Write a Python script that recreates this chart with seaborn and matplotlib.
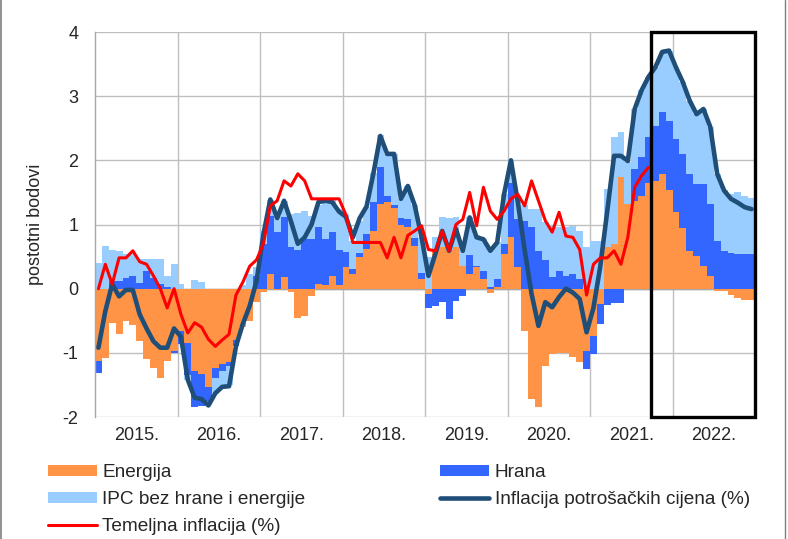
import numpy as np
import pandas as pd
import matplotlib
matplotlib.use("Agg")
import matplotlib.pyplot as plt
from matplotlib.patches import Rectangle, Patch
from matplotlib.lines import Line2D
import seaborn as sns

# ---------------- data (monthly, Jan 2015 - Dec 2022) ----------------
years = ["2015.", "2016.", "2017.", "2018.", "2019.", "2020.", "2021.", "2022."]

energija = [
    -1.13, -1.08, -0.53, -0.71, -0.50, -0.56, -0.82, -1.10, -1.23, -1.39, -1.13, -0.97,
    -0.66, -0.85, -1.28, -1.33, -1.54, -1.23, -1.18, -1.15, -0.80, -0.60, -0.50, -0.21,
    -0.05, 0.23, -0.02, 0.18, -0.05, -0.45, -0.42, -0.11, 0.07, 0.05, 0.20, 0.06,
    0.33, 0.23, 0.50, 0.62, 0.90, 1.32, 1.35, 1.25, 1.00, 0.96, 0.67, 0.15,
    -0.08, 0.60, 0.65, 0.60, 0.65, 0.35, 0.23, 0.33, 0.15, -0.06, 0.02, 0.54,
    0.80, 0.33, -0.66, -1.72, -1.85, -1.20, -1.02, -1.00, -1.00, -1.07, -1.15, -0.97,
    -0.73, -0.24, 0.65, 0.70, 1.74, 1.32, 1.36, 1.45, 1.65, 1.68, 1.79, 1.53,
    1.19, 0.95, 0.59, 0.51, 0.35, 0.20, -0.03, -0.03, -0.10, -0.15, -0.18, -0.18,
]

hrana = [
    -0.19, 0.00, 0.12, 0.12, 0.17, 0.19, 0.09, 0.27, 0.17, 0.07, 0.02, -0.04,
    -0.20, -0.50, -0.57, -0.50, -0.21, -0.16, -0.10, -0.05, -0.10, 0.00, 0.00, 0.20,
    0.70, 0.90, 0.88, 0.93, 0.65, 0.60, 0.78, 0.78, 0.89, 0.73, 0.68, 0.54,
    0.24, 0.07, 0.05, 0.23, 0.45, 0.58, 0.10, 0.05, 0.10, 0.12, 0.12, 0.10,
    -0.22, -0.27, -0.21, -0.47, -0.19, -0.11, 0.30, 0.03, 0.13, 0.02, 0.13, 0.15,
    0.84, 0.76, 1.05, 0.96, 0.59, 0.44, 0.18, 0.28, 0.20, 0.23, 0.15, -0.28,
    -0.29, -0.31, -0.25, -0.22, -0.22, 0.00, 0.50, 0.60, 0.72, 0.86, 0.96, 1.09,
    1.14, 1.15, 1.20, 1.12, 1.28, 1.12, 0.74, 0.59, 0.56, 0.54, 0.54, 0.54,
]

ipc_bez = [
    0.40, 0.67, 0.49, 0.47, 0.37, 0.35, 0.38, 0.19, 0.29, 0.39, 0.18, 0.39,
    0.07, -0.07, 0.14, 0.10, -0.07, -0.24, -0.26, -0.30, 0.00, 0.05, 0.23, 0.13,
    0.20, 0.25, 0.26, 0.26, 0.52, 0.58, 0.43, 0.35, 0.34, 0.62, 0.52, 0.64,
    0.60, 0.45, 0.50, 0.43, 0.45, 0.49, 0.65, 0.80, 0.30, 0.52, 0.51, 0.55,
    0.50, 0.20, 0.46, 0.50, 0.47, 0.35, 0.58, 0.47, 0.49, 0.63, 0.57, 0.78,
    0.36, 0.35, 0.25, 0.28, 0.65, 0.60, 0.80, 0.68, 0.76, 0.75, 0.75, 0.65,
    0.75, 0.75, 0.91, 1.67, 0.70, 0.65, 0.94, 1.04, 0.93, 0.91, 0.94, 1.09,
    1.12, 1.12, 1.14, 1.09, 1.17, 1.20, 1.05, 0.94, 0.91, 0.96, 0.91, 0.88,
]

inflacija = [
    -0.92, -0.35, 0.07, -0.12, -0.02, -0.02, -0.40, -0.62, -0.82, -0.92, -0.92, -0.62,
    -0.75, -1.42, -1.70, -1.72, -1.82, -1.63, -1.53, -1.52, -0.90, -0.55, -0.27, 0.12,
    0.85, 1.39, 1.10, 1.37, 1.05, 0.70, 0.80, 1.00, 1.35, 1.37, 1.35, 1.20,
    1.12, 0.80, 1.10, 1.28, 1.80, 2.38, 2.10, 2.10, 1.40, 1.60, 1.30, 0.80,
    0.20, 0.54, 0.90, 0.59, 0.93, 0.59, 1.11, 0.80, 0.77, 0.59, 0.72, 1.47,
    2.00, 1.35, 0.60, -0.08, -0.58, -0.21, -0.29, -0.13, 0.00, -0.06, -0.16, -0.68,
    -0.30, 0.35, 1.20, 2.07, 2.07, 1.99, 2.80, 3.09, 3.30, 3.45, 3.69, 3.71,
    3.45, 3.22, 2.93, 2.72, 2.80, 2.52, 1.79, 1.53, 1.40, 1.34, 1.27, 1.24,
]

temeljna = [
    0.00, 0.38, 0.07, 0.48, 0.48, 0.59, 0.42, 0.38, 0.20, 0.00, -0.30, 0.00,
    -0.40, -0.69, -0.53, -0.60, -0.79, -0.90, -0.80, -0.71, -0.10, 0.10, 0.35, 0.45,
    0.70, 1.29, 1.37, 1.68, 1.60, 1.79, 1.68, 1.40, 1.40, 1.40, 1.40, 1.40,
    1.15, 0.72, 0.72, 0.72, 0.72, 0.72, 0.48, 0.80, 0.48, 0.83, 0.90, 0.98,
    0.61, 0.59, 0.90, 0.59, 1.00, 1.08, 1.50, 0.98, 1.58, 1.21, 1.08, 1.21,
    1.40, 1.47, 1.29, 1.68, 1.37, 1.06, 0.88, 1.19, 0.82, 0.80, 0.61, -0.10,
    0.38, 0.48, 0.48, 0.59, 0.38, 0.80, 1.58, 1.76, 1.89,
]

# highlighted period (projection box) starts at this month position
box_start = 80.9

# ---------------- styling ----------------
C_ENERGY = "#FF9447"
C_FOOD = "#3366FF"
C_CORE = "#99CCFF"
C_CPI = "#1F4E79"
C_TEM = "#FF0000"
GRID = "#BFBFBF"

sns.set_theme(style="white")
plt.rcParams["font.family"] = ["Liberation Sans", "DejaVu Sans"]

n = len(energija)
x = np.arange(n) + 0.5
df = pd.DataFrame({"x": x, "Energija": energija, "Hrana": hrana,
                   "IPC": ipc_bez, "Inflacija": inflacija})
df_tem = pd.DataFrame({"x": x[:len(temeljna)], "Temeljna": temeljna})

fig = plt.figure(figsize=(7.88, 5.39), dpi=100)
ax = fig.add_axes([95 / 788, 1 - 417 / 539, 660 / 788, 385 / 539])

# stacked bars (positive stack up, negative stack down)
pos_b = np.zeros(n)
neg_b = np.zeros(n)
for col, colr in [("Energija", C_ENERGY), ("Hrana", C_FOOD), ("IPC", C_CORE)]:
    v = df[col].to_numpy()
    bottom = np.where(v >= 0, pos_b, neg_b)
    ax.bar(df["x"], v, bottom=bottom, width=1.0, color=colr,
           linewidth=0, edgecolor="none", zorder=2, antialiased=False)
    pos_b = pos_b + np.where(v >= 0, v, 0)
    neg_b = neg_b + np.where(v < 0, v, 0)

sns.lineplot(data=df, x="x", y="Inflacija", ax=ax, color=C_CPI, lw=3.3,
             zorder=4, legend=False)
sns.lineplot(data=df_tem, x="x", y="Temeljna", ax=ax, color=C_TEM, lw=2.2,
             zorder=5, legend=False)

ax.set_xlim(0, n)
ax.set_ylim(-2, 4)
ax.set_yticks(range(-2, 5))
ax.set_yticklabels([str(v) for v in range(-2, 5)])
ax.set_xticks(np.arange(len(years)) * 12 + 6)
ax.set_xticklabels(years)
ax.grid(False)
ax.set_axisbelow(True)
for yv in range(-2, 5):
    ax.axhline(yv, color=GRID, lw=1.0, zorder=0.5)
for xv in np.arange(12, n, 12):
    ax.axvline(xv, color=GRID, lw=1.0, zorder=0.5)
ax.axhline(0, color="#A6A6A6", lw=1.0, zorder=1.5)

for s in ["top", "right", "bottom"]:
    ax.spines[s].set_visible(False)
ax.spines["left"].set_color("#A6A6A6")
ax.spines["left"].set_linewidth(1.0)

ax.tick_params(axis="y", length=5, width=1.0, color="#A6A6A6", pad=7,
               labelsize=13, direction="out")
ax.tick_params(axis="x", which="both", length=0, pad=7, labelsize=13)
ax.set_xlabel("")
ax.set_ylabel("postotni bodovi", fontsize=13)
ax.yaxis.set_label_coords(-0.078, 0.5)

# highlight box
ax.add_patch(Rectangle((box_start, -2), n - box_start, 6, fill=False,
                       edgecolor="black", lw=2.4, zorder=6, clip_on=False))

# legend
handles = [
    Patch(facecolor=C_ENERGY, edgecolor="none", label="Energija"),
    Patch(facecolor=C_CORE, edgecolor="none", label="IPC bez hrane i energije"),
    Line2D([0], [0], color=C_TEM, lw=2.2, label="Temeljna inflacija (%)"),
    Patch(facecolor=C_FOOD, edgecolor="none", label="Hrana"),
    Line2D([0], [0], color=C_CPI, lw=3.3, label="Inflacija potrošačkih cijena (%)"),
]
fig.legend(handles=handles, loc="upper left", bbox_to_anchor=(48 / 788, 1 - 464 / 539),
           ncol=2, frameon=False, fontsize=13.7, handlelength=2.55, handleheight=0.5,
           handletextpad=0.3, columnspacing=7.1, labelspacing=0.52,
           borderpad=0, borderaxespad=0)

# figure side borders
fig.add_artist(Line2D([0.0015, 0.0015], [0, 1], color="#7F7F7F", lw=1.2,
                      transform=fig.transFigure))
fig.add_artist(Line2D([0.996, 0.996], [0, 1], color="#7F7F7F", lw=1.0,
                      transform=fig.transFigure))

fig.savefig("out.png", dpi=100)
